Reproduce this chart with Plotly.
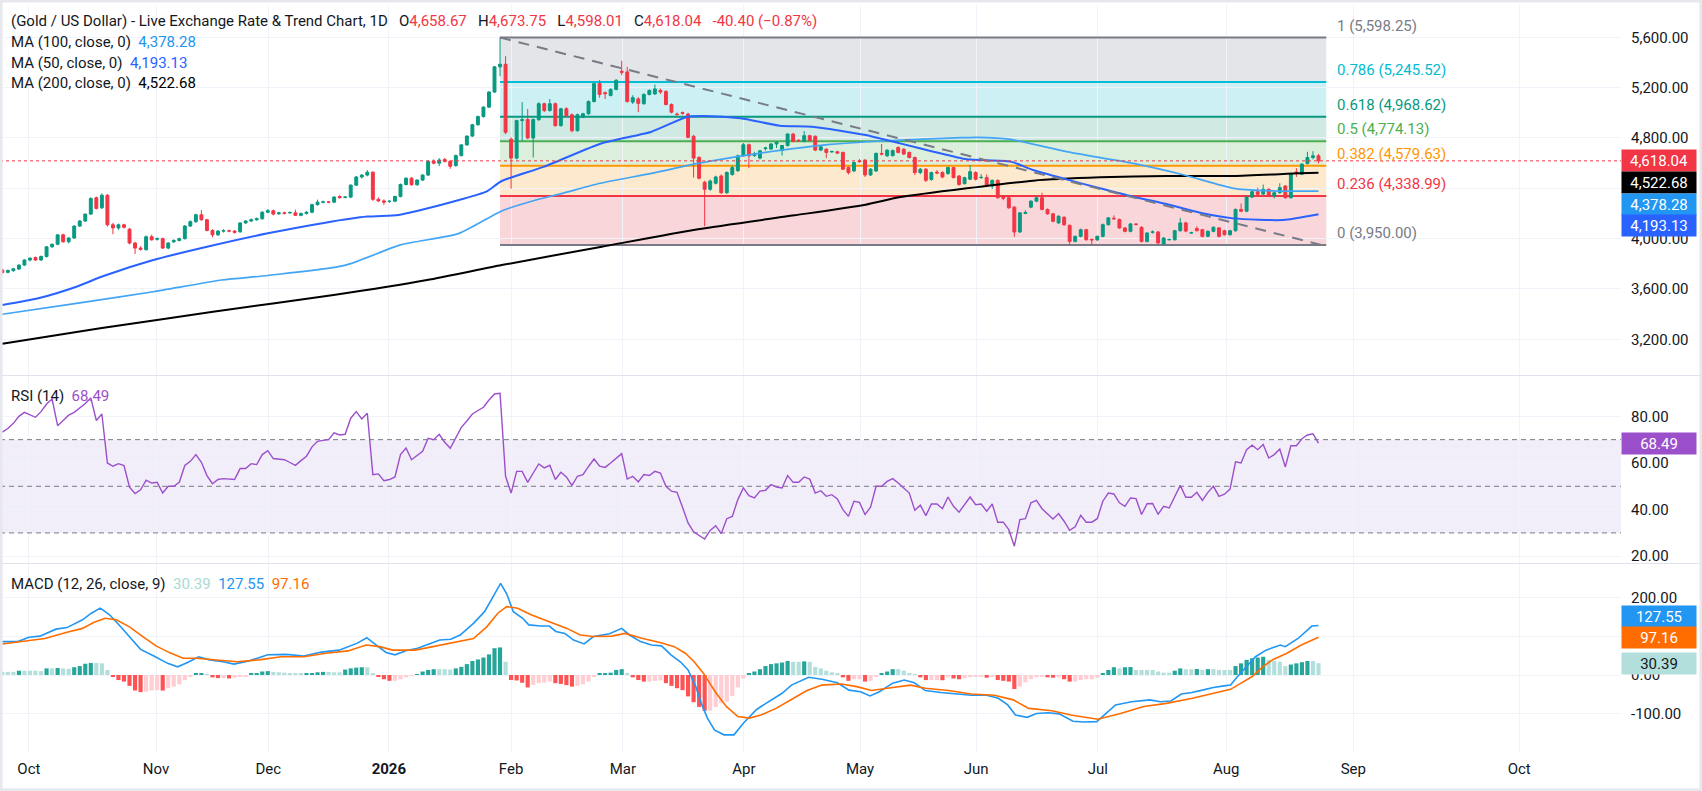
import plotly.graph_objects as go

# daily candles, bar 0 = late Sep 2025, last bar = late Aug 2026
opens = [
    3750, 3732, 3745, 3758, 3790, 3830, 3850, 3830, 3858, 3935,
    3955, 4030, 3975, 4005, 4100, 4140, 4195, 4325, 4245, 4345,
    4110, 4085, 4110, 4075, 3965, 3925, 3912, 4015, 3995, 4000,
    3925, 3975, 3985, 4000, 4100, 4135, 4190, 4150, 4065, 4030,
    4060, 4062, 4060, 4055, 4125, 4140, 4150, 4158, 4210, 4222,
    4198, 4205, 4205, 4205, 4185, 4200, 4210, 4270, 4290, 4292,
    4290, 4335, 4328, 4330, 4425, 4490, 4505, 4528, 4312, 4300,
    4295, 4297, 4335, 4430, 4480, 4428, 4465, 4505, 4615, 4600,
    4628, 4615, 4580, 4660, 4745, 4815, 4905, 4970, 5045, 5165,
    5365, 5386, 4790, 4640, 4938, 4946, 4800, 4946, 5072, 5018,
    5072, 4898, 5032, 4984, 4858, 4965, 4992, 5090, 5232, 5160,
    5138, 5186, 5330, 5325, 5085, 5110, 5072, 5146, 5150, 5178,
    5170, 5066, 4990, 5002, 4990, 4813, 4645, 4448, 4392, 4440,
    4498, 4365, 4510, 4540, 4658, 4746, 4660, 4640, 4715, 4712,
    4752, 4700, 4740, 4831, 4780, 4773, 4818, 4813, 4704, 4711,
    4690, 4690, 4685, 4565, 4538, 4618, 4624, 4506, 4538, 4677,
    4658, 4660, 4725, 4711, 4685, 4645, 4525, 4552, 4470, 4528,
    4525, 4517, 4565, 4498, 4437, 4472, 4525, 4485, 4485, 4418,
    4463, 4330, 4325, 4250, 4053, 4200, 4250, 4298, 4325, 4232,
    4197, 4125, 4170, 4106, 3978, 4018, 4071, 3995, 3990, 4018,
    4111, 4162, 4152, 4085, 4058, 4117, 4090, 3978, 4050, 4053,
    3957, 3991, 3991, 4063, 4125, 4045, 4080, 4071, 4018, 4058,
    4085, 4063, 4031, 4063, 4232, 4218, 4330, 4373, 4354, 4392,
    4338, 4365, 4418, 4325, 4530, 4512, 4597, 4645, 4658.67,
]
highs = [
    3762, 3752, 3768, 3795, 3836, 3852, 3858, 3866, 3940, 3962,
    4035, 4040, 4012, 4105, 4148, 4200, 4330, 4335, 4360, 4355,
    4125, 4120, 4118, 4085, 3975, 3940, 4025, 4030, 4010, 4008,
    3972, 3995, 4008, 4108, 4145, 4198, 4228, 4158, 4075, 4068,
    4075, 4072, 4068, 4130, 4148, 4160, 4168, 4218, 4235, 4230,
    4212, 4215, 4215, 4230, 4208, 4218, 4278, 4310, 4302, 4300,
    4338, 4345, 4338, 4432, 4498, 4512, 4545, 4535, 4328, 4312,
    4305, 4342, 4438, 4488, 4490, 4472, 4512, 4622, 4630, 4640,
    4642, 4622, 4668, 4752, 4820, 4912, 4978, 5052, 5172, 5372,
    5598.25, 5450, 4805, 4945, 5085, 5030, 4955, 5085, 5080, 5110,
    5082, 5040, 5045, 4995, 4995, 5000, 5098, 5240, 5260, 5170,
    5195, 5268, 5413, 5365, 5140, 5125, 5155, 5186, 5225, 5192,
    5178, 5075, 5002, 5010, 5000, 4825, 4655, 4460, 4470, 4500,
    4510, 4535, 4580, 4668, 4760, 4755, 4690, 4705, 4730, 4760,
    4775, 4745, 4838, 4840, 4792, 4855, 4825, 4820, 4738, 4718,
    4700, 4698, 4692, 4575, 4612, 4632, 4632, 4560, 4685, 4752,
    4710, 4708, 4732, 4718, 4692, 4652, 4560, 4560, 4532, 4545,
    4535, 4572, 4572, 4505, 4492, 4585, 4535, 4512, 4510, 4470,
    4470, 4342, 4332, 4258, 4210, 4225, 4305, 4332, 4365, 4240,
    4205, 4185, 4178, 4112, 4025, 4080, 4078, 4000, 4025, 4120,
    4172, 4185, 4160, 4092, 4125, 4122, 4098, 4052, 4065, 4060,
    4012, 4002, 4070, 4165, 4135, 4055, 4098, 4078, 4065, 4098,
    4092, 4070, 4070, 4240, 4280, 4338, 4380, 4405, 4430, 4400,
    4372, 4440, 4425, 4520, 4560, 4600, 4690, 4695, 4673.75,
]
lows = [
    3722, 3725, 3738, 3752, 3782, 3818, 3822, 3824, 3850, 3925,
    3948, 3968, 3962, 3998, 4092, 4132, 4188, 4232, 4235, 4095,
    4035, 4070, 4080, 3955, 3878, 3905, 3905, 3985, 3985, 3918,
    3915, 3965, 3978, 3992, 4092, 4125, 4142, 4058, 4010, 4022,
    4048, 4050, 4040, 4045, 4118, 4132, 4142, 4150, 4202, 4185,
    4188, 4192, 4198, 4180, 4178, 4192, 4202, 4262, 4280, 4282,
    4282, 4318, 4320, 4322, 4418, 4478, 4495, 4300, 4290, 4268,
    4285, 4290, 4328, 4422, 4420, 4420, 4458, 4498, 4590, 4575,
    4605, 4555, 4572, 4652, 4738, 4808, 4898, 4962, 5038, 5158,
    5290, 4830, 4397, 4630, 4775, 4790, 4645, 4935, 5005, 5010,
    4890, 4890, 4970, 4845, 4850, 4958, 4985, 5082, 5120, 5110,
    5130, 5178, 5300, 5080, 5070, 5005, 5065, 5138, 5142, 5150,
    5058, 4995, 4978, 4985, 4798, 4485, 4470, 4098, 4380, 4430,
    4355, 4355, 4500, 4530, 4650, 4560, 4650, 4630, 4700, 4705,
    4720, 4660, 4732, 4765, 4768, 4765, 4770, 4695, 4695, 4640,
    4682, 4672, 4545, 4510, 4530, 4605, 4490, 4498, 4530, 4662,
    4650, 4652, 4678, 4665, 4638, 4505, 4512, 4450, 4460, 4512,
    4480, 4508, 4478, 4420, 4430, 4465, 4462, 4475, 4410, 4395,
    4318, 4305, 4238, 4015, 4045, 4195, 4242, 4290, 4225, 4190,
    4130, 4118, 4102, 3950, 3970, 4010, 3985, 3950, 3982, 4010,
    4104, 4150, 4078, 4050, 4050, 4105, 3970, 3970, 4040, 3958,
    3950, 3985, 3985, 4055, 4052, 4038, 4058, 4010, 4012, 4050,
    4010, 4025, 4025, 4055, 4210, 4210, 4322, 4345, 4348, 4330,
    4320, 4358, 4318, 4318, 4490, 4505, 4590, 4630, 4598.01,
]
closes = [
    3730, 3748, 3760, 3790, 3830, 3845, 3830, 3858, 3935, 3955,
    4030, 3975, 4005, 4100, 4140, 4195, 4318, 4240, 4345, 4110,
    4085, 4110, 4090, 3965, 3925, 3915, 4015, 3990, 4000, 3925,
    3965, 3985, 4000, 4100, 4135, 4190, 4150, 4065, 4030, 4060,
    4062, 4060, 4050, 4125, 4140, 4150, 4158, 4210, 4222, 4195,
    4205, 4200, 4207, 4185, 4200, 4210, 4270, 4290, 4292, 4290,
    4330, 4325, 4330, 4425, 4490, 4505, 4528, 4312, 4300, 4290,
    4297, 4335, 4430, 4480, 4428, 4465, 4505, 4615, 4600, 4625,
    4615, 4575, 4660, 4745, 4815, 4905, 4970, 5045, 5165, 5365,
    5386, 4845, 4640, 4938, 4945, 4800, 4946, 5072, 5018, 5072,
    4898, 5032, 4978, 4858, 4984, 4992, 5090, 5232, 5146, 5152,
    5186, 5258, 5322, 5090, 5120, 5075, 5146, 5178, 5190, 5165,
    5066, 5005, 4986, 4996, 4805, 4640, 4480, 4392, 4458, 4490,
    4365, 4525, 4565, 4658, 4746, 4658, 4675, 4698, 4720, 4752,
    4765, 4740, 4831, 4773, 4778, 4818, 4780, 4704, 4730, 4685,
    4692, 4680, 4552, 4525, 4605, 4612, 4506, 4552, 4677, 4672,
    4703, 4700, 4685, 4672, 4645, 4525, 4552, 4463, 4525, 4522,
    4490, 4565, 4485, 4431, 4485, 4532, 4472, 4487, 4418, 4463,
    4325, 4322, 4245, 4053, 4205, 4208, 4298, 4325, 4232, 4197,
    4138, 4178, 4110, 3978, 4018, 4071, 3991, 3990, 4018, 4111,
    4165, 4158, 4085, 4058, 4117, 4112, 3978, 4045, 4053, 3965,
    4005, 3993, 4063, 4125, 4060, 4047, 4063, 4018, 4058, 4090,
    4018, 4031, 4063, 4232, 4218, 4330, 4373, 4352, 4392, 4338,
    4365, 4405, 4325, 4512, 4522, 4592, 4645, 4658.44, 4618.04,
]
bars = list(range(len(closes)))

# moving averages, read at sample bars
ma50_x = [0, 6.5, 13.4, 18.3, 27.3, 37.6, 48, 58.4, 66, 71.6, 75.7, 82.6, 87.5, 90.3, 98,
          108.4, 117.4, 123.9, 127, 133.5, 140.6, 146.4, 156.1, 162.3, 168.4, 174.4, 182.3,
          186.4, 192.4, 198.5, 204.5, 210.5, 216.6, 222.6, 231.6, 238]
ma50_y = [3473, 3526, 3618, 3703, 3830, 3941, 4042, 4127, 4175, 4188, 4228, 4307, 4373, 4458, 4572,
          4758, 4850, 4969, 4975, 4956, 4898, 4890, 4824, 4757, 4691, 4630, 4612,
          4545, 4471, 4400, 4333, 4275, 4206, 4161, 4148, 4193.13]
ma100_x = [0, 13.4, 27.3, 39.7, 48, 61.9, 72, 82.6, 90.3, 96.5, 101.3, 108.1, 117.4, 125.8,
           136.8, 149.7, 162.5, 173.4, 176.3, 182.3, 192.4, 204.5, 213.7, 222.6, 228.7, 238]
ma100_y = [3399, 3486, 3578, 3671, 3707, 3787, 3950, 4042, 4220, 4307, 4360, 4440, 4519, 4598,
           4678, 4749, 4784, 4802, 4805, 4789, 4691, 4598, 4506, 4400, 4381, 4378.28]
ma200_x = [0, 17.7, 38.1, 59.9, 76.8, 90.3, 108.4, 125.8, 143.2, 156.1, 162.4, 174.4, 186.4,
           198.5, 210.5, 222.6, 234.6, 238]
ma200_y = [3164, 3287, 3419, 3552, 3671, 3790, 3936, 4075, 4185, 4270, 4330, 4400, 4461,
           4487, 4498, 4498, 4519, 4522.68]

# RSI (14), one value per bar
rsi = [
    73.2, 74.8, 77, 80, 81.7, 80.5, 79.6, 82, 85.3, 87.4,
    76, 78.2, 80.5, 81.7, 83.5, 85.5, 87.9, 78.2, 81, 60,
    58.6, 59.7, 58.9, 49.6, 46.9, 48.5, 52.6, 51.4, 51.7, 47.1,
    50, 50, 51.7, 58.9, 60.7, 63.6, 60.3, 54.6, 51.1, 52.9,
    53.3, 53.1, 52.9, 57.6, 57.6, 59.7, 59.3, 63.6, 65.3, 61.9,
    61.7, 61.4, 60.2, 59, 61, 62.9, 66.9, 69.3, 69.7, 70,
    72.9, 72, 72.3, 79.2, 82, 78.9, 81.3, 55, 55.3, 52.4,
    52.9, 54, 63.6, 66.4, 61.4, 63.1, 65, 70.6, 70, 72.3,
    68.9, 66.3, 70.5, 75.3, 78, 81, 82.5, 83.9, 87, 89.6,
    89.9, 54.3, 47.1, 56.4, 56.4, 51.7, 55.7, 59.6, 57.9, 59,
    52.9, 56, 54, 50.4, 54.3, 55, 58.5, 61.7, 58.6, 58.1,
    60, 62, 64, 53.1, 54.3, 51.9, 55, 54.6, 56.4, 55.7,
    50, 47.9, 47.4, 41, 34.3, 30.5, 29, 27.4, 31.1, 33.1,
    29.7, 36.1, 37.1, 44.3, 49.3, 46, 45, 47.9, 48.3, 50.7,
    49.7, 49.3, 54.6, 51.7, 51.7, 54, 53.1, 47.1, 48.1, 45.7,
    46.4, 44.6, 40, 37.1, 43.6, 43.1, 37.9, 41, 50, 50,
    52.1, 53.3, 51.4, 49.3, 47.1, 39.7, 41.9, 37.4, 42.4, 42.4,
    40.4, 45.4, 41.4, 38.9, 42.1, 45.4, 42.1, 42.4, 39.3, 42.4,
    34.6, 34.6, 31.4, 24.3, 35.7, 36.1, 42.9, 44, 40.4, 38.3,
    36, 38.3, 35, 31.1, 32.6, 37.6, 34.6, 34.6, 36.1, 43.6,
    47.1, 46.7, 42.9, 41.4, 45, 44.7, 37.9, 42.5, 42.6, 38,
    41.4, 40.7, 45.7, 50.4, 45.3, 45.3, 47.4, 43.9, 47.4, 50,
    45.7, 46.6, 48.8, 60.5, 60, 65.7, 67.6, 65.7, 67.9, 62.1,
    63.6, 66, 58.3, 67.4, 67.4, 70.4, 72, 72.5, 68.49,
]

# MACD (12, 26, close, 9) lines, read at sample bars
macd_x = [0, 2.8, 4.8, 6.8, 9.7, 11.7, 14.5, 16.1, 17.7, 19.4, 21.4, 23.4, 25, 27.4, 29.9, 31.7,
          33.5, 35.5, 37.5, 39.9, 41.9, 44.8, 48, 51.3, 54.5, 57.7, 60.9, 64.2, 65.9, 67.8, 69.4,
          71, 73.1, 75.1, 77.1, 79.1, 81.1, 82.8, 85.2, 87.2, 88.8, 90.1, 91.2, 92.4, 94.1, 95.2,
          97.3, 98.9, 100.1, 101.7, 103.3, 105.2, 106.9, 109.8, 112, 113.4, 115.4, 117.4, 119.2,
          120.9, 122.6, 124, 125.4, 126.4, 127.5, 128.8, 130.5, 132.3, 134, 136.3, 137.2, 139.2,
          141, 142.7, 144.8, 145.8, 148.2, 151, 153.1, 155.2, 156.9, 158.6, 161, 163.1, 164.9,
          166.9, 169.7, 172.5, 175.2, 178, 180.1, 181.8, 183.2, 185.3, 187, 189.1, 191.1, 193.6,
          195.5, 197.9, 199.5, 201.3, 204.2, 207.5, 209.4, 211.3, 213.2, 215.1, 217, 219, 220.9,
          222.1, 223.4, 225, 226.6, 228.5, 231.1, 232, 234.3, 236.8, 238]
macd_y = [86, 86, 97, 100, 118, 122, 142, 159, 172, 155, 124, 92, 66, 49, 30, 21,
          32, 47, 39, 34, 28, 37, 52, 53, 49, 59, 64, 82, 96, 75, 58,
          52, 63, 69, 80, 90, 92, 103, 133, 163, 203, 236, 209, 163, 146, 129,
          126, 126, 112, 107, 90, 80, 99, 106, 120, 103, 86, 77, 75,
          52, 34, 13, -30, -73, -111, -142, -154, -154, -124, -90, -81, -63,
          -47, -26, -11, -6, -11, -20, -39, -43, -54, -43, -21, -13, -20,
          -40, -45, -49, -52, -52, -60, -77, -103, -109, -99, -97, -100, -119,
          -121, -120, -100, -77, -69, -64, -69, -67, -49, -45, -39, -32, -28,
          -26, -3, 21, 47, 64, 77, 73, 94, 126, 127.55]
signal_x = [0, 3.6, 7.7, 11.7, 14.5, 16.5, 18.6, 20.6, 23, 25.4, 27.8, 30.3, 32.7, 35.1, 38.3,
            42.4, 46.4, 50.4, 54.5, 58.5, 62.5, 65.8, 68.2, 70.6, 74.7, 78.7, 82.7, 85.2, 87.6,
            89.6, 91.2, 93.2, 95.6, 98.9, 102.1, 104.5, 106.9, 110.2, 112.6, 115.8, 119.1, 121.5,
            123.5, 125.1, 126.8, 128.9, 130.9, 133, 135.1, 137.2, 139.9, 142.7, 145.5, 148.2,
            151.7, 154.5, 157.2, 160, 164.2, 166.9, 171.1, 175.2, 179.4, 182.8, 185.6, 189.8,
            193.2, 198.1, 202.2, 206.4, 210.5, 215.2, 219, 222.1, 224, 226, 227.9, 229.8, 232.3,
            234.9, 238]
signal_y = [80, 86, 94, 110, 120, 135, 146, 142, 124, 99, 75, 57, 43, 43, 39,
            34, 39, 47, 47, 56, 62, 77, 73, 64, 64, 75, 86, 94, 124,
            159, 176, 172, 155, 137, 120, 103, 99, 100, 107, 94, 83, 73,
            56, 34, 4, -43, -81, -107, -111, -103, -86, -63, -40, -26,
            -23, -30, -40, -34, -26, -34, -40, -49, -52, -64, -86, -92,
            -103, -114, -99, -81, -73, -60, -47, -37, -21, -4, 21, 40, 56,
            77, 97.16]
hist = [
    8, 8, 8, 11, 11, 11, 11, 10, 17, 17,
    18, 17, 16, 20, 23, 29, 31, 31, 30, 13,
    -5, -13, -17, -28, -40, -44, -43, -40, -39, -40,
    -34, -30, -24, -13, -4, 3, 4, 1, -6, -8,
    -8, -9, -7, -4, -3, 3, 4, 9, 10, 8,
    7, 6, 4, 3, 3, 4, 5, 7, 8, 8,
    7, 7, 14, 17, 19, 20, 20, 4, -4, -11,
    -15, -15, -11, -6, -2, 1, 9, 13, 15, 15,
    15, 14, 17, 21, 28, 36, 40, 45, 53, 69,
    71, 34, -13, -14, -20, -32, -26, -21, -20, -17,
    -21, -23, -26, -30, -28, -24, -17, -5, 3, 4,
    6, 13, 15, 3, -6, -13, -17, -17, -15, -14,
    -21, -28, -34, -39, -55, -70, -82, -92, -92, -82,
    -73, -69, -54, -32, -9, 3, 9, 15, 23, 28,
    30, 32, 36, 34, 34, 35, 34, 21, 17, 11,
    7, 3, -6, -15, -11, -11, -17, -15, -4, 3,
    9, 15, 15, 11, 4, 0.5, -6, -13, -13, -13,
    -13.5, -6, -9, -11, -9, -4, -4, -4, -7, -4,
    -13, -15, -17, -36, -30, -19, -11, -6, -4, -6,
    -7, -6, -11, -17, -17, -13, -11, -11, -7, 4,
    13, 20, 17, 20, 20.5, 13, 13, 13, 13, 9,
    6, 6, 11, 17, 15, 15, 15.5, 13, 15, 15,
    13, 13, 13, 23, 30, 39, 43, 45, 47, 39,
    36, 34, 23, 27, 30, 33, 36, 36, 30.39,
]

# x axis: month starts in bar units
month_pos = [4.8, 27.8, 48.1, 69.9, 92.0, 112.2, 134.1, 155.1, 176.1, 198.1, 221.3, 244.3, 274.3]
month_txt = ["Oct", "Nov", "Dec", "<b>2026</b>", "Feb", "Mar", "Apr", "May", "Jun", "Jul", "Aug", "Sep", "Oct"]
# right scales; labels hidden behind the value badges are left blank
price_ticks = [3200, 3600, 4000, 4400, 4800, 5200, 5600]
price_txt = ["3,200.00", "3,600.00", "4,000.00", "", "4,800.00", "5,200.00", "5,600.00"]
rsi_ticks = [20, 40, 60, 80]
rsi_txt = ["20.00", "40.00", "60.00", "80.00"]
macd_ticks = [-100, 0, 100, 200]
macd_txt = ["-100.00", "0.00", "", "200.00"]

# fibonacci retracement drawn from the Feb high to the swing low
fib_levels = ["1", "0.786", "0.618", "0.5", "0.382", "0.236", "0"]
fib_prices = [5598.25, 5245.52, 4968.62, 4774.13, 4579.63, 4338.99, 3950.00]
fib_start, fib_end = 90, 239.4
trend_x = [90, 239.4]
trend_y = [5598.25, 3940]

UP, DOWN = "#089981", "#f23645"
TXT = "#131722"
GRID = "#f0f3fa"
PURPLE = "#9c4fcb"
fib_line_col = ["#787b86", "#00bcd4", "#089981", "#4caf50", "#ff9800", "#f23645", "#787b86"]
fib_fill_col = ["#e4e5e9", "#ccf0f3", "#d0e9e3", "#dcefdc", "#fde9cd", "#f9d6da"]

X_RANGE = [-0.42, 292.7]
PLOT_W, TOP, BOTTOM = 1621, 5, 752
FS = 15


def yp(px):
    return (BOTTOM - px) / (BOTTOM - TOP)


def xp(px):
    return px / PLOT_W


fig = go.Figure()

fig.add_trace(go.Candlestick(
    x=bars, open=opens, high=highs, low=lows, close=closes,
    increasing=dict(line=dict(color=UP, width=1), fillcolor=UP),
    decreasing=dict(line=dict(color=DOWN, width=1), fillcolor=DOWN),
    whiskerwidth=0, hoverinfo="skip", xaxis="x", yaxis="y"))
for xs, ys, col, w in [(ma200_x, ma200_y, "#000000", 2), (ma100_x, ma100_y, "#42a5f5", 1.7),
                       (ma50_x, ma50_y, "#2962ff", 2)]:
    fig.add_trace(go.Scatter(x=xs, y=ys, mode="lines", hoverinfo="skip",
                             line=dict(color=col, width=w, shape="spline", smoothing=0.6),
                             xaxis="x", yaxis="y"))

fig.add_trace(go.Scatter(x=bars, y=rsi, mode="lines", line=dict(color=PURPLE, width=1.4),
                         hoverinfo="skip", xaxis="x2", yaxis="y2"))

hist_colors = []
for i, v in enumerate(hist):
    prev = hist[i - 1] if i else v
    if v >= 0:
        hist_colors.append("#26a69a" if v > prev else "#b2dfdb")
    else:
        hist_colors.append("#ff5252" if v < prev else "#ffcdd2")
fig.add_trace(go.Bar(x=bars, y=hist, marker=dict(color=hist_colors, line=dict(width=0)), width=0.75,
                     hoverinfo="skip", xaxis="x3", yaxis="y3"))
fig.add_trace(go.Scatter(x=macd_x, y=macd_y, mode="lines", line=dict(color="#2196f3", width=1.6),
                         hoverinfo="skip", xaxis="x3", yaxis="y3"))
fig.add_trace(go.Scatter(x=signal_x, y=signal_y, mode="lines", line=dict(color="#ff6d00", width=1.6),
                         hoverinfo="skip", xaxis="x3", yaxis="y3"))

shapes = []
# fibonacci zones and level lines
for k in range(len(fib_prices) - 1):
    shapes.append(dict(type="rect", xref="x", yref="y", x0=fib_start, x1=fib_end,
                       y0=fib_prices[k + 1], y1=fib_prices[k], fillcolor=fib_fill_col[k],
                       line=dict(width=0), layer="below"))
for p, col in zip(fib_prices, fib_line_col):
    shapes.append(dict(type="line", xref="x", yref="y", x0=fib_start, x1=fib_end, y0=p, y1=p,
                       line=dict(color=col, width=2), layer="between"))
shapes.append(dict(type="line", xref="x", yref="y", x0=trend_x[0], x1=trend_x[1], y0=trend_y[0], y1=trend_y[1],
                   line=dict(color="#787b86", width=2, dash="11px,8px")))
shapes.append(dict(type="line", xref="x", yref="y", x0=X_RANGE[0], x1=X_RANGE[1], y0=closes[-1], y1=closes[-1],
                   line=dict(color=DOWN, width=1, dash="dot")))
# RSI band
shapes.append(dict(type="rect", xref="x2", yref="y2", x0=X_RANGE[0], x1=X_RANGE[1], y0=30, y1=70,
                   fillcolor="rgba(126,87,194,0.1)", line=dict(width=0), layer="below"))
for lvl in [70, 50, 30]:
    shapes.append(dict(type="line", xref="x2", yref="y2", x0=X_RANGE[0], x1=X_RANGE[1], y0=lvl, y1=lvl,
                       line=dict(color="#787b86", width=1, dash="5px,4px"), layer="between"))
# pane separators and outer frame
for sep in [375.5, 563.5]:
    shapes.append(dict(type="line", xref="paper", yref="paper", x0=0, x1=1702 / PLOT_W, y0=yp(sep), y1=yp(sep),
                       line=dict(color="#e0e3eb", width=1)))
shapes.append(dict(type="rect", xref="paper", yref="paper", x0=0, x1=1702 / PLOT_W, y0=yp(791), y1=yp(0),
                   line=dict(color="#e6e8ee", width=5)))

annotations = []


def red(v):
    return f"<span style='color:{DOWN}'>{v}</span>"


chg = closes[-1] - closes[-2]
pct = chg / closes[-2] * 100
header = ("(Gold / US Dollar) - Live Exchange Rate &amp; Trend Chart, 1D&nbsp;&nbsp;&nbsp;"
          f"O{red(f'{opens[-1]:,.2f}')}&nbsp;&nbsp;&nbsp;H{red(f'{highs[-1]:,.2f}')}&nbsp;&nbsp;&nbsp;"
          f"L{red(f'{lows[-1]:,.2f}')}&nbsp;&nbsp;&nbsp;C{red(f'{closes[-1]:,.2f}')}&nbsp;&nbsp;&nbsp;"
          + red(f"{chg:.2f} (\u2212{abs(pct):.2f}%)"))
legend_rows = [
    (21, header),
    (42, f"MA (100, close, 0)&nbsp;&nbsp;<span style='color:#2196f3'>{ma100_y[-1]:,.2f}</span>"),
    (63, f"MA (50, close, 0)&nbsp;&nbsp;<span style='color:#2962ff'>{ma50_y[-1]:,.2f}</span>"),
    (83, f"MA (200, close, 0)&nbsp;&nbsp;<span style='color:#000000'>{ma200_y[-1]:,.2f}</span>"),
    (396, f"RSI (14)&nbsp;&nbsp;<span style='color:{PURPLE}'>{rsi[-1]:.2f}</span>"),
    (584, f"MACD (12, 26, close, 9)&nbsp;&nbsp;<span style='color:#a7dbd2'>{hist[-1]:.2f}</span>"
          f"&nbsp;&nbsp;<span style='color:#2196f3'>{macd_y[-1]:.2f}</span>"
          f"&nbsp;&nbsp;<span style='color:#ff6d00'>{signal_y[-1]:.2f}</span>"),
]
for ypx, txt in legend_rows:
    annotations.append(dict(xref="paper", yref="paper", x=xp(9), y=yp(ypx), xanchor="left", yanchor="middle",
                            text=txt, showarrow=False, font=dict(size=FS, color=TXT)))

for lvl, p, col in zip(fib_levels, fib_prices, fib_line_col):
    annotations.append(dict(xref="x", yref="y", x=241, y=p, yshift=12, xanchor="left", yanchor="middle",
                            text=f"{lvl} ({p:,.2f})", showarrow=False, font=dict(size=FS, color=col)))


def badge(val, yref, bg, shift=0, fg="white"):
    annotations.append(dict(xref="paper", yref=yref, x=1, y=val, yshift=shift, xanchor="left", yanchor="middle",
                            text=f"{val:,.2f}", showarrow=False, bgcolor=bg, width=72, height=19, borderpad=1,
                            align="center", font=dict(size=FS, color=fg)))


badge(closes[-1], "y", DOWN)
badge(ma200_y[-1], "y", "#000000", -10)
badge(ma100_y[-1], "y", "#2196f3", -13)
badge(ma50_y[-1], "y", "#2962ff", -11)
badge(rsi[-1], "y2", PURPLE)
badge(macd_y[-1], "y3", "#2196f3", 9)
badge(signal_y[-1], "y3", "#ff6d00")
badge(hist[-1], "y3", "#b2dfdb", 0, TXT)

xcommon = dict(range=X_RANGE, tickvals=month_pos, ticktext=month_txt, showgrid=True, gridcolor=GRID,
               zeroline=False, showline=False, ticks="", fixedrange=True)
ycommon = dict(side="right", showgrid=True, gridcolor=GRID, zeroline=False, showline=False, ticks="",
               ticklabelstandoff=9, tickfont=dict(size=FS, color=TXT), fixedrange=True)

fig.update_layout(
    width=1702, height=791,
    margin=dict(l=0, r=1702 - PLOT_W, t=TOP, b=791 - BOTTOM),
    paper_bgcolor="white", plot_bgcolor="white", showlegend=False,
    font=dict(family="Roboto, Arial, sans-serif", size=FS, color=TXT),
    boxgap=0.25,
    xaxis=dict(**xcommon, anchor="y", showticklabels=False, rangeslider=dict(visible=False)),
    xaxis2=dict(**xcommon, anchor="y2", matches="x", showticklabels=False),
    xaxis3=dict(**xcommon, anchor="y3", matches="x", showticklabels=True, ticklabelstandoff=6,
                tickfont=dict(size=FS, color=TXT)),
    yaxis=dict(**ycommon, domain=[yp(375), 1], range=[2916.3, 5856.7], tickvals=price_ticks, ticktext=price_txt),
    yaxis2=dict(**ycommon, domain=[yp(563), yp(376)], range=[17.1, 97.3], tickvals=rsi_ticks, ticktext=rsi_txt),
    yaxis3=dict(**ycommon, domain=[0, yp(564)], range=[-198.2, 285.7], tickvals=macd_ticks, ticktext=macd_txt),
    shapes=shapes, annotations=annotations,
)

# the page's default body margin would push the chart off its 1702x791 frame
fig.write_html("out.html", config={"displayModeBar": False},
               post_script="document.body.style.margin='0';")
